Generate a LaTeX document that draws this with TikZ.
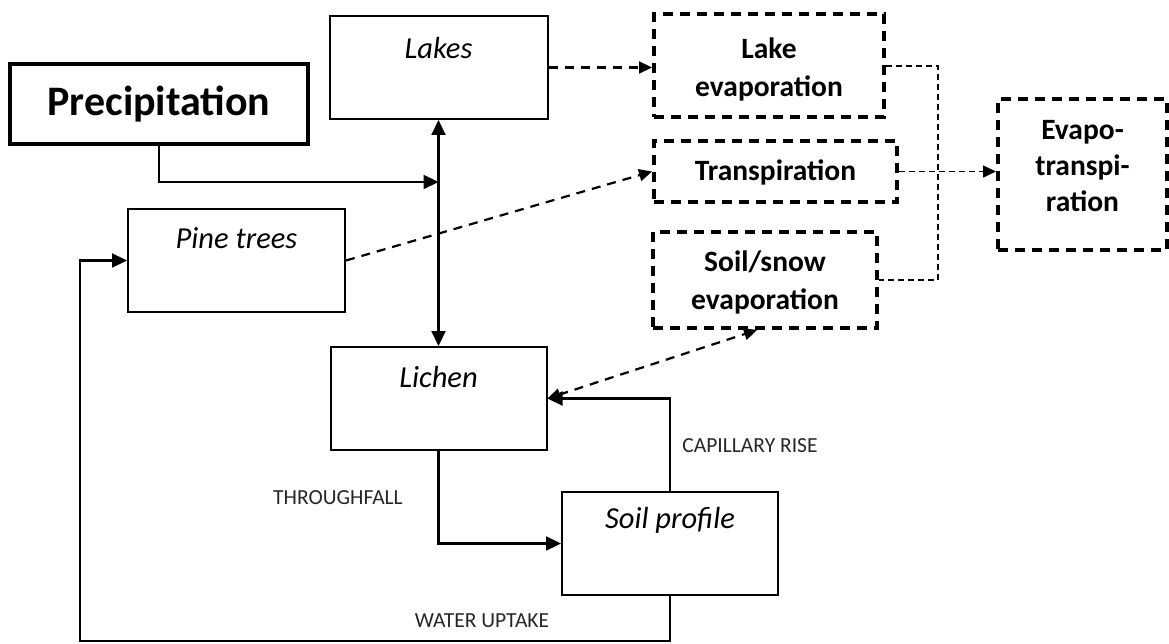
\documentclass[tikz,border=0pt]{standalone}
\usepackage{fontspec}
\setmainfont{Carlito}
\usetikzlibrary{arrows.meta}
\begin{document}
\begin{tikzpicture}[x=1pt,y=-1pt,
  solidbox/.style={draw, line width=2pt, rectangle, inner sep=0pt},
  thickbox/.style={draw, line width=4pt, rectangle, inner sep=0pt},
  dashbox/.style={draw, line width=4pt, rectangle, inner sep=0pt, dash pattern=on 10pt off 7pt},
  itl/.style={font=\fontsize{30.5}{36}\selectfont\itshape, inner sep=0pt},
  bld/.style={font=\fontsize{29.5}{38}\selectfont\bfseries, inner sep=0pt, align=center},
  caplabel/.style={font=\fontsize{21.5}{25}\selectfont, inner sep=0pt, text=black!85},
  tip/.style={-{Triangle[length=15pt,width=14pt]}},
  dtip/.style={-{Triangle[length=13pt,width=12pt]}},
  arr/.style={line width=2.2pt, tip},
  darr/.style={line width=2.2pt, dash pattern=on 9pt off 7pt, dtip},
  thinarr/.style={line width=1.6pt, dash pattern=on 6pt off 4pt},
]
\useasboundingbox (0,0) rectangle (1169,644);

% boxes
\node[thickbox, minimum width=298pt, minimum height=80pt] (precip) at (159,104) {};
\node[font=\fontsize{42}{48}\selectfont\bfseries, inner sep=0pt] at (159,104) {Precipitation};

\node[solidbox, minimum width=218pt, minimum height=103pt] (lakes) at (438.5,67.5) {};
\node[itl] at (438.5,48) {Lakes};

\node[solidbox, minimum width=217pt, minimum height=103pt] (pine) at (236.5,260.5) {};
\node[itl] at (236.5,238) {Pine trees};

\node[solidbox, minimum width=216pt, minimum height=103pt] (lichen) at (438.5,398.5) {};
\node[itl] at (438.5,377) {Lichen};

\node[solidbox, minimum width=216pt, minimum height=103pt] (soil) at (670,543.5) {};
\node[itl] at (670,520) {Soil profile};

\node[dashbox, minimum width=230pt, minimum height=103pt] (lakeevap) at (769,65.5) {};
\node[bld] at (769,69) {Lake\\evaporation};

\node[dashbox, minimum width=243pt, minimum height=61pt] (transp) at (775.5,171.5) {};
\node[bld] at (775.5,172) {Transpiration};

\node[dashbox, minimum width=224pt, minimum height=96pt] (soilsnow) at (765,280) {};
\node[bld] at (765,282) {Soil/snow\\evaporation};

\node[dashbox, minimum width=169pt, minimum height=151pt] (evapo) at (1082.5,174.5) {};
\node[bld, font=\fontsize{29.5}{36}\selectfont\bfseries] at (1082.5,166) {Evapo-\\transpi-\\ration};

% labels
\node[caplabel] (lblthrough) at (338,498) {THROUGHFALL};
\node[caplabel] (lblcap) at (750,446) {CAPILLARY RISE};
\node[caplabel] (lblwater) at (482,621) {WATER UPTAKE};

% coordinates
\coordinate (junc) at (438.5,182);
\coordinate (wbr) at (670,641);
\coordinate (wbl) at (80,641);
\coordinate (rtop) at (938,66);
\coordinate (rbot) at (938,280);

% solid connectors
\draw[arr] (precip.south) |- (junc);
\draw[line width=2.2pt, {Triangle[length=15pt,width=14pt]}-{Triangle[length=15pt,width=14pt]}] (lakes.south) -- (lichen.north);
\draw[arr] (lichen.south) |- (soil.west);
\draw[arr] (soil.north) |- (lichen.east);
\draw[arr] (soil.south) -- (wbr) -- (wbl) |- (pine.west);

% dashed connectors
\draw[darr] (lakes.east) -- (lakes.east -| lakeevap.west);
\draw[darr] (pine.east) -- (transp.west);
\draw[darr, {Triangle[length=13pt,width=12pt]}-{Triangle[length=13pt,width=12pt]}] (lichen.east) -- ([xshift=-8pt]soilsnow.south);
\draw[thinarr] (lakeevap.east |- rtop) -- (rtop) -- (rbot) -- (rbot -| soilsnow.east);
\draw[thinarr, dtip] (transp.east) -- (transp.east -| evapo.west);
\end{tikzpicture}
\end{document}
